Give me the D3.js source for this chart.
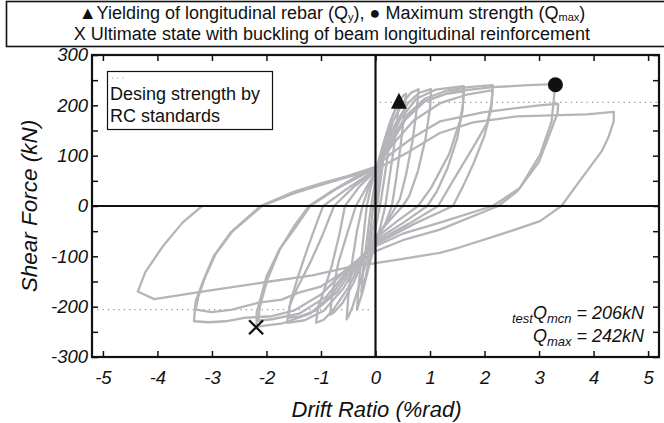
<!DOCTYPE html>
<html><head><meta charset="utf-8">
<script src="https://cdn.jsdelivr.net/npm/d3@7"></script>
<style>
body{margin:0;background:#fff}
svg{display:block}
text{font-family:"Liberation Sans",Arial,Helvetica,sans-serif;fill:#111}
</style>
</head><body>
<svg id="c" width="664" height="423"></svg>
<script>
// ---------- data ----------
const xTicks = [-5,-4,-3,-2,-1,0,1,2,3,4,5];
const yTicks = [-300,-250,-200,-150,-100,-50,0,50,100,150,200,250,300];
const yLabelTicks = [-300,-200,-100,0,100,200,300];
const designStrength = 206;          // test Qmcn (kN)
const qMax = 242;                    // kN
const yieldPoint = [0.43, 209];      // ▲ Qy
const maxPoint = [3.3, 241];         // ● Qmax
const ultimatePoint = [-2.19, -241]; // X
// hysteresis cycles: [drift %rad, shear kN]
const loop1 = [[0,0],[0.05,35],[0.1,70],[0.15,100],[0.12,72],[0.07,32],[0.03,0],[-0.03,-35],[-0.09,-70],[-0.15,-95],[-0.12,-68],[-0.07,-28],[-0.04,0]];
const loop2 = [[-0.04,0],[0.02,40],[0.1,90],[0.2,135],[0.3,165],[0.26,128],[0.18,68],[0.11,18],[0.08,0],[0.0,-45],[-0.1,-100],[-0.18,-140],[-0.26,-172],[-0.23,-130],[-0.16,-70],[-0.11,-25],[-0.08,0]];
const loop3 = [[-0.08,0],[-0.02,40],[0.05,80],[0.15,125],[0.28,170],[0.38,198],[0.43,209],[0.4,172],[0.33,110],[0.24,45],[0.18,0],[0.08,-45],[-0.02,-80],[-0.12,-120],[-0.23,-168],[-0.34,-206],[-0.31,-160],[-0.25,-92],[-0.2,-40],[-0.16,0]];
const loop4 = [[-0.16,0],[-0.08,40],[0.02,75],[0.12,115],[0.25,160],[0.4,200],[0.5,218],[0.56,223],[0.53,185],[0.46,120],[0.38,55],[0.3,0],[0.18,-35],[0.0,-70],[-0.15,-105],[-0.3,-158],[-0.42,-200],[-0.5,-220],[-0.53,-225],[-0.5,-182],[-0.43,-112],[-0.34,-50],[-0.24,0]];
const loop5 = [[-0.24,0],[-0.12,38],[0.02,72],[0.14,112],[0.32,168],[0.5,205],[0.65,225],[0.79,232],[0.76,195],[0.68,130],[0.56,62],[0.45,15],[0.38,0],[0.22,-30],[0.0,-64],[-0.2,-100],[-0.4,-152],[-0.6,-192],[-0.75,-210],[-0.83,-216],[-0.8,-178],[-0.68,-112],[-0.5,-48],[-0.36,0]];
const loop6 = [[-0.36,0],[-0.16,38],[0.02,72],[0.15,108],[0.35,160],[0.6,205],[0.8,225],[1.02,232],[1.0,195],[0.92,135],[0.78,70],[0.62,20],[0.5,0],[0.25,-30],[0.0,-62],[-0.25,-108],[-0.5,-162],[-0.78,-207],[-0.95,-226],[-1.09,-232],[-1.05,-200],[-0.95,-170],[-0.8,-118],[-0.66,-55],[-0.56,0]];
const loop7 = [[-0.56,0],[-0.3,38],[0.02,72],[0.2,115],[0.45,172],[0.75,213],[1.1,231],[1.62,238],[1.6,200],[1.55,169],[1.35,103],[1.02,36],[0.78,0],[0.4,-30],[0.0,-64],[-0.3,-112],[-0.6,-165],[-0.95,-208],[-1.3,-227],[-1.62,-232],[-1.58,-200],[-1.45,-166],[-1.2,-113],[-0.98,-60],[-0.76,0]];
const loop8 = [[-0.76,0],[-0.4,38],[0.0,70],[0.25,118],[0.55,172],[0.9,208],[1.3,223],[1.62,228],[1.6,192],[1.5,135],[1.32,75],[1.12,28],[0.95,0],[0.5,-34],[0.0,-68],[-0.35,-115],[-0.7,-170],[-1.1,-208],[-1.4,-220],[-1.6,-222],[-1.56,-190],[-1.42,-140],[-1.25,-85],[-1.1,-40],[-0.96,0]];
const loop9 = [[-0.96,0],[-0.5,36],[0.0,72],[0.25,118],[0.55,178],[0.9,213],[1.3,229],[1.7,236],[2.15,240],[2.13,205],[2.05,165],[1.82,122],[1.42,50],[1.15,0],[0.6,-36],[0.0,-72],[-0.4,-116],[-0.8,-176],[-1.2,-214],[-1.7,-233],[-2.0,-237],[-2.18,-240],[-2.18,-212],[-2.0,-140],[-1.76,-86],[-1.45,-40],[-1.2,0]];
const loop10 = [[-1.2,0],[-0.7,35],[-0.3,58],[0.0,75],[0.3,120],[0.7,170],[1.2,205],[1.7,222],[2.15,230],[2.12,192],[2.0,140],[1.8,85],[1.6,38],[1.42,0],[0.7,-36],[0.0,-76],[-0.45,-120],[-0.9,-180],[-1.4,-214],[-1.9,-225],[-2.15,-228],[-2.12,-200],[-1.98,-145],[-1.75,-85],[-1.48,-38],[-1.22,0]];
const loop11 = [[-1.22,0],[-0.8,30],[-0.4,55],[0.0,76],[0.2,110],[0.5,168],[0.9,208],[1.4,227],[2.15,236],[2.8,240],[3.29,242],[3.28,222],[3.23,168],[3.02,102],[2.65,36],[2.15,0],[1.18,-33],[0.5,-55],[0.0,-80],[-0.5,-122],[-1.0,-176],[-1.5,-208],[-1.9,-219],[-2.38,-222],[-2.75,-229],[-3.06,-231],[-3.33,-229],[-3.3,-190],[-3.15,-146],[-2.97,-100],[-2.66,-53],[-2.11,0]];
const loop12 = [[-2.11,0],[-1.5,28],[-1.0,45],[-0.5,60],[0.0,78],[0.3,105],[0.7,137],[1.18,168],[1.97,186],[2.4,192],[3.0,200],[3.35,203],[3.34,185],[3.24,156],[3.0,88],[2.6,29],[2.25,0],[1.18,-47],[0.5,-68],[0.0,-90],[-0.5,-125],[-1.0,-160],[-1.41,-172],[-1.72,-186],[-2.14,-192],[-2.63,-206],[-3.0,-211],[-3.3,-206],[-3.25,-180],[-3.12,-140],[-2.93,-95],[-2.62,-50],[-2.08,0]];
const loop13 = [[-2.08,0],[-1.5,25],[-1.0,42],[-0.5,58],[0.0,72],[0.63,109],[1.18,145],[1.79,166],[2.59,178],[3.87,182],[4.37,187],[4.37,168],[4.27,136],[4.15,109],[3.74,49],[3.41,0],[3.02,-30],[2.28,-57],[1.55,-82],[1.18,-93],[0.5,-105],[0.03,-113],[-0.5,-122],[-1.16,-138],[-2.0,-151],[-3.0,-167],[-4.06,-185],[-4.36,-170],[-4.22,-131],[-3.9,-80],[-3.54,-33],[-3.18,0]];
const loops = [loop1,loop2,loop3,loop4,loop5,loop6,loop7,loop8,loop9,loop10,loop11,loop12,loop13];

// ---------- layout ----------
const L = 92, R = 659, T = 55, B = 357;
const svg = d3.select("#c");
const x = d3.scaleLinear().domain([-5.2, 5.2]).range([L, R]);
const y = d3.scaleLinear().domain([-300, 300]).range([B, T]);

// header box
svg.append("rect").attr("x",6.5).attr("y",1.5).attr("width",660).attr("height",45)
  .attr("fill","none").attr("stroke","#111").attr("stroke-width",1.6);
const h1 = svg.append("text").attr("x",332).attr("y",19).attr("text-anchor","middle").attr("font-size",18);
h1.append("tspan").text("▲Yielding of longitudinal rebar (Q");
h1.append("tspan").attr("font-size",11).attr("dy",2).text("y");
h1.append("tspan").attr("dy",-2).text("), ● Maximum strength (Q");
h1.append("tspan").attr("font-size",11).attr("dy",2).text("max");
h1.append("tspan").attr("dy",-2).text(")");
svg.append("text").attr("x",332).attr("y",40).attr("text-anchor","middle").attr("font-size",18)
  .text("X Ultimate state with buckling of beam longitudinal reinforcement");

// design strength dotted lines
svg.append("line").attr("x1",x(0.08)).attr("x2",R).attr("y1",y(designStrength)).attr("y2",y(designStrength))
  .attr("stroke","#999").attr("stroke-width",1.3).attr("stroke-dasharray","1.3,4");
svg.append("line").attr("x1",L).attr("x2",x(-0.1)).attr("y1",y(-designStrength)).attr("y2",y(-designStrength))
  .attr("stroke","#999").attr("stroke-width",1.3).attr("stroke-dasharray","1.3,4");

// hysteresis
const line = d3.line().x(d=>x(d[0])).y(d=>y(d[1])).curve(d3.curveLinear);
svg.append("g").selectAll("path").data(loops).join("path")
  .attr("d", line).attr("fill","none").attr("stroke","#b4b5b8")
  .attr("stroke-width",2.3).attr("stroke-linejoin","round").attr("stroke-linecap","round");

// zero lines
svg.append("line").attr("x1",L).attr("x2",R).attr("y1",y(0)).attr("y2",y(0)).attr("stroke","#111").attr("stroke-width",2.2);
svg.append("line").attr("x1",x(0)).attr("x2",x(0)).attr("y1",T).attr("y2",B).attr("stroke","#111").attr("stroke-width",2.2);

// axes
const fmtY = d => (yLabelTicks.includes(d) ? String(d) : "");
const gB = svg.append("g").attr("transform",`translate(0,${B})`)
  .call(d3.axisBottom(x).tickValues(xTicks).tickSizeInner(-6).tickSizeOuter(0).tickPadding(14).tickFormat(d=>String(d)));
const gT = svg.append("g").attr("transform",`translate(0,${T})`)
  .call(d3.axisTop(x).tickValues(xTicks).tickSizeInner(-6).tickSizeOuter(0).tickFormat(""));
const gL = svg.append("g").attr("transform",`translate(${L},0)`)
  .call(d3.axisLeft(y).tickValues(yTicks).tickSizeInner(-6).tickSizeOuter(0).tickPadding(4).tickFormat(fmtY));
const gR = svg.append("g").attr("transform",`translate(${R},0)`)
  .call(d3.axisRight(y).tickValues(yTicks).tickSizeInner(-6).tickSizeOuter(0).tickFormat(""));
[gB,gT,gL,gR].forEach(g=>{
  g.select(".domain").remove();
  g.selectAll(".tick line").attr("stroke","#111").attr("stroke-width",1.5);
  g.selectAll(".tick text").attr("font-size",18.5).attr("font-style","italic")
    .attr("font-family","'Liberation Sans',Arial,sans-serif").attr("fill","#111");
});
// frame
svg.append("rect").attr("x",L).attr("y",T).attr("width",R-L).attr("height",B-T)
  .attr("fill","none").attr("stroke","#111").attr("stroke-width",2.2);

// axis titles
svg.append("text").attr("x",(L+R)/2 + 1).attr("y",417).attr("text-anchor","middle")
  .attr("font-size",22).attr("font-style","italic").text("Drift Ratio (%rad)");
svg.append("text").attr("transform",`translate(37,${(T+B)/2}) rotate(-90)`).attr("text-anchor","middle")
  .attr("font-size",22.5).attr("font-style","italic").text("Shear Force (kN)");

// legend
svg.append("rect").attr("x",107.5).attr("y",71.5).attr("width",165).attr("height",58)
  .attr("fill","#fff").attr("stroke","#111").attr("stroke-width",1.2);
svg.append("line").attr("x1",112).attr("x2",126).attr("y1",78).attr("y2",78)
  .attr("stroke","#999").attr("stroke-width",1.2).attr("stroke-dasharray","1.2,4");
svg.append("text").attr("x",110).attr("y",100).attr("font-size",18).text("Desing strength by");
svg.append("text").attr("x",110).attr("y",122).attr("font-size",18).text("RC standards");

// annotation
const a1 = svg.append("text").attr("x",644).attr("y",319).attr("text-anchor","end").attr("font-size",18).attr("font-style","italic");
a1.append("tspan").attr("font-size",13).attr("dy",4).text("test");
a1.append("tspan").attr("dy",-4).text("Q");
a1.append("tspan").attr("font-size",13).attr("dy",4).text("mcn");
a1.append("tspan").attr("dy",-4).text(` = ${designStrength}kN`);
const a2 = svg.append("text").attr("x",644).attr("y",342).attr("text-anchor","end").attr("font-size",18).attr("font-style","italic");
a2.append("tspan").text("Q");
a2.append("tspan").attr("font-size",13).attr("dy",4).text("max");
a2.append("tspan").attr("dy",-4).text(` = ${qMax}kN`);

// markers
const tx = x(yieldPoint[0]), ty = y(yieldPoint[1]);
svg.append("path").attr("d",`M${tx},${ty-8}L${tx+8},${ty+8}L${tx-8},${ty+8}Z`).attr("fill","#111");
svg.append("circle").attr("cx",x(maxPoint[0])).attr("cy",y(maxPoint[1])).attr("r",7.5).attr("fill","#111");
const ux = x(ultimatePoint[0]), uy = y(ultimatePoint[1]);
svg.append("path").attr("d",`M${ux-7},${uy-7}L${ux+7},${uy+7}M${ux+7},${uy-7}L${ux-7},${uy+7}`)
  .attr("stroke","#111").attr("stroke-width",2.3);
</script>
</body></html>
